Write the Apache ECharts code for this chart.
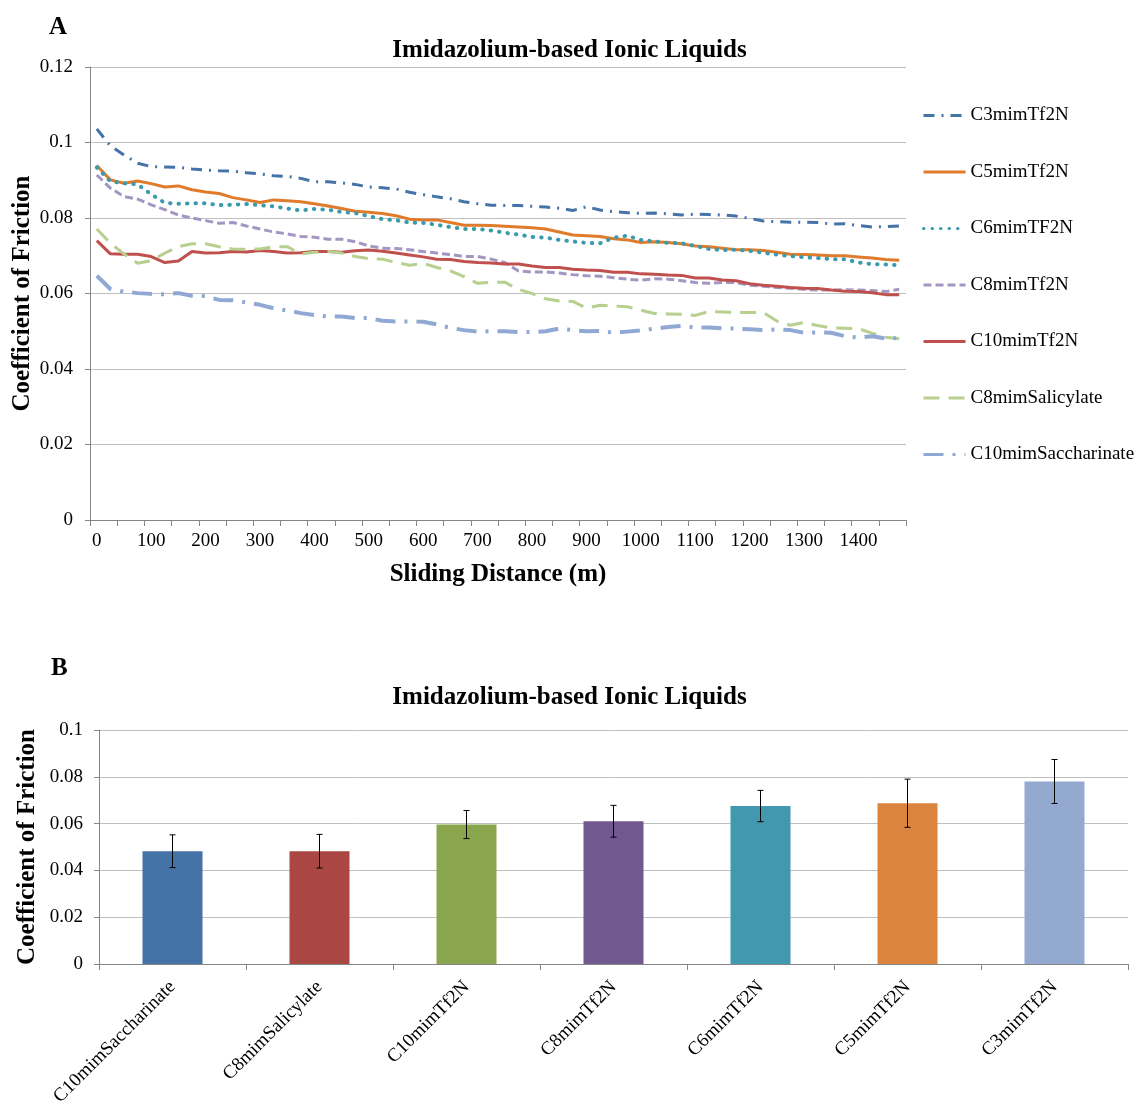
<!DOCTYPE html>
<html><head><meta charset="utf-8">
<script src="https://cdn.jsdelivr.net/npm/echarts@6/dist/echarts.min.js"></script>
<style>html,body{margin:0;padding:0;background:#fff}#c{width:1139px;height:1103px}</style>
</head><body><div id="c"></div>
<script>
const distance = [0,25,50,75,100,125,150,175,200,225,250,275,300,325,350,375,400,425,450,475,500,525,550,575,600,625,650,675,700,725,750,775,800,825,850,875,900,925,950,975,1000,1025,1050,1075,1100,1125,1150,1175,1200,1225,1250,1275,1300,1325,1350,1375,1400,1425,1450,1475];
const c3 = [0.1036,0.0991,0.0967,0.0945,0.0936,0.0935,0.0934,0.0930,0.0927,0.0925,0.0924,0.0920,0.0917,0.0912,0.0910,0.0905,0.0896,0.0896,0.0893,0.0889,0.0882,0.0880,0.0877,0.0868,0.0862,0.0856,0.0851,0.0843,0.0838,0.0834,0.0833,0.0833,0.0831,0.0829,0.0826,0.0820,0.0830,0.0821,0.0817,0.0814,0.0812,0.0813,0.0811,0.0808,0.0810,0.0809,0.0808,0.0805,0.0799,0.0792,0.0790,0.0789,0.0789,0.0788,0.0784,0.0785,0.0780,0.0776,0.0777,0.0779];
const c5 = [0.0939,0.0901,0.0892,0.0898,0.0891,0.0882,0.0885,0.0875,0.0869,0.0865,0.0854,0.0848,0.0841,0.0848,0.0846,0.0843,0.0838,0.0832,0.0825,0.0818,0.0815,0.0812,0.0806,0.0797,0.0795,0.0795,0.0788,0.0781,0.0781,0.0780,0.0778,0.0776,0.0774,0.0771,0.0763,0.0755,0.0753,0.0751,0.0745,0.0742,0.0735,0.0737,0.0735,0.0732,0.0726,0.0724,0.0720,0.0716,0.0716,0.0714,0.0709,0.0704,0.0703,0.0702,0.0700,0.0700,0.0697,0.0694,0.0690,0.0688];
const c6 = [0.0934,0.0897,0.0892,0.0889,0.0863,0.0840,0.0838,0.0839,0.0839,0.0834,0.0835,0.0837,0.0834,0.0831,0.0825,0.0820,0.0824,0.0822,0.0816,0.0813,0.0805,0.0797,0.0794,0.0788,0.0787,0.0782,0.0776,0.0771,0.0771,0.0767,0.0761,0.0756,0.0750,0.0748,0.0742,0.0738,0.0734,0.0733,0.0748,0.0753,0.0742,0.0738,0.0734,0.0733,0.0726,0.0718,0.0715,0.0716,0.0713,0.0708,0.0703,0.0699,0.0696,0.0694,0.0691,0.0691,0.0682,0.0678,0.0677,0.0675];
const c8 = [0.0914,0.0879,0.0857,0.0850,0.0835,0.0822,0.0808,0.0800,0.0793,0.0786,0.0788,0.0779,0.0771,0.0763,0.0758,0.0751,0.0749,0.0744,0.0744,0.0737,0.0726,0.0720,0.0719,0.0716,0.0711,0.0707,0.0703,0.0698,0.0698,0.0691,0.0682,0.0660,0.0657,0.0657,0.0654,0.0650,0.0647,0.0646,0.0642,0.0638,0.0635,0.0639,0.0638,0.0634,0.0629,0.0627,0.0629,0.0629,0.0622,0.0619,0.0616,0.0614,0.0611,0.0609,0.0609,0.0610,0.0609,0.0608,0.0605,0.0611];
const c10 = [0.0740,0.0705,0.0704,0.0704,0.0698,0.0682,0.0686,0.0711,0.0707,0.0708,0.0711,0.0710,0.0714,0.0711,0.0707,0.0708,0.0711,0.0711,0.0709,0.0713,0.0715,0.0712,0.0707,0.0702,0.0697,0.0691,0.0690,0.0685,0.0682,0.0681,0.0678,0.0678,0.0673,0.0669,0.0669,0.0664,0.0662,0.0661,0.0656,0.0656,0.0652,0.0651,0.0649,0.0648,0.0641,0.0641,0.0636,0.0634,0.0626,0.0622,0.0619,0.0616,0.0614,0.0613,0.0609,0.0606,0.0605,0.0602,0.0597,0.0597];
const c8sal = [0.0771,0.0733,0.0705,0.0680,0.0687,0.0707,0.0724,0.0732,0.0732,0.0724,0.0718,0.0717,0.0718,0.0724,0.0724,0.0705,0.0709,0.0711,0.0707,0.0698,0.0692,0.0691,0.0682,0.0675,0.0680,0.0669,0.0660,0.0645,0.0627,0.0630,0.0630,0.0611,0.0600,0.0586,0.0580,0.0579,0.0561,0.0569,0.0567,0.0565,0.0556,0.0547,0.0546,0.0545,0.0542,0.0552,0.0551,0.0550,0.0550,0.0550,0.0527,0.0516,0.0523,0.0515,0.0509,0.0508,0.0507,0.0495,0.0484,0.0480];
const c10sac = [0.0647,0.0612,0.0605,0.0601,0.0599,0.0598,0.0601,0.0594,0.0593,0.0583,0.0582,0.0576,0.0570,0.0561,0.0555,0.0548,0.0543,0.0539,0.0539,0.0535,0.0535,0.0528,0.0526,0.0526,0.0525,0.0518,0.0509,0.0503,0.0499,0.0500,0.0500,0.0498,0.0498,0.0500,0.0507,0.0503,0.0500,0.0501,0.0496,0.0499,0.0502,0.0507,0.0511,0.0514,0.0510,0.0510,0.0508,0.0507,0.0505,0.0503,0.0505,0.0503,0.0496,0.0497,0.0496,0.0487,0.0483,0.0487,0.0481,0.0482];

const barNames = ['C10mimSaccharinate','C8mimSalicylate','C10mimTf2N','C8mimTf2N','C6mimTf2N','C5mimTf2N','C3mimTf2N'];
const barValues = [0.0482,0.0482,0.0596,0.0610,0.0675,0.0687,0.0780];
const barErrors = [0.0070,0.0072,0.0060,0.0068,0.0067,0.0103,0.0094];

const FONT = "'Liberation Serif','Times New Roman',serif";
const barColors = ['#4572A7','#AA4643','#89A54E','#71588F','#4198AF','#DB843D','#93A9CF'];

const lineDefs = [
  {name:'C3mimTf2N', data:c3, color:'#4572A7', type:[11,7,2,7], width:3, cap:'butt'},
  {name:'C5mimTf2N', data:c5, color:'#E07B2C', type:'solid', width:3, cap:'butt'},
  {name:'C6mimTF2N', data:c6, color:'#3A9AAE', type:[0.5,8], width:4, cap:'round'},
  {name:'C8mimTf2N', data:c8, color:'#A396C2', type:[8,4], width:3, cap:'butt'},
  {name:'C10mimTf2N', data:c10, color:'#C0504D', type:'solid', width:3, cap:'butt'},
  {name:'C8mimSalicylate', data:c8sal, color:'#B7CF8F', type:[16,9], width:3, cap:'butt'},
  {name:'C10mimSaccharinate', data:c10sac, color:'#8FA8D4', type:[20,9,3,9], width:4, cap:'butt'}
];

const chart = echarts.init(document.getElementById('c'), null, {renderer:'canvas'});
const axisGray = '#868686';
const gridGray = '#C0C0C0';

const series = lineDefs.map(d => ({
  name: d.name, type:'line', xAxisIndex:0, yAxisIndex:0, data:d.data,
  symbol:'none', showSymbol:false, animation:false, smooth:false,
  lineStyle:{color:d.color, width:d.width, type:d.type, cap:d.cap},
  itemStyle:{color:d.color}
}));

series.push({
  name:'COF', type:'bar', xAxisIndex:1, yAxisIndex:1, barWidth:60, animation:false,
  data: barValues.map((v,i)=>({value:v, itemStyle:{color:barColors[i]}}))
});
series.push({
  name:'err', type:'custom', xAxisIndex:1, yAxisIndex:1, animation:false, z:10,
  data: barValues.map((v,i)=>[i, v-barErrors[i], v+barErrors[i]]),
  renderItem: function(params, api){
    const lo = api.coord([api.value(0), api.value(1)]);
    const hi = api.coord([api.value(0), api.value(2)]);
    const w = 3;
    const st = {stroke:'#000', lineWidth:1};
    return {type:'group', children:[
      {type:'line', shape:{x1:lo[0],y1:lo[1],x2:hi[0],y2:hi[1]}, style:st},
      {type:'line', shape:{x1:lo[0]-w,y1:lo[1],x2:lo[0]+w,y2:lo[1]}, style:st},
      {type:'line', shape:{x1:hi[0]-w,y1:hi[1],x2:hi[0]+w,y2:hi[1]}, style:st}
    ]};
  }
});

const option = {
  backgroundColor:'#fff',
  animation:false,
  textStyle:{fontFamily:FONT},
  title:[
    {text:'A', left:44, top:10, textStyle:{fontFamily:FONT, fontSize:25, fontWeight:'bold', color:'#000'}},
    {text:'Imidazolium-based Ionic Liquids', left:'center', top:33, textStyle:{fontFamily:FONT, fontSize:25, fontWeight:'bold', color:'#000'}},
    {text:'B', left:46, top:651, textStyle:{fontFamily:FONT, fontSize:25, fontWeight:'bold', color:'#000'}},
    {text:'Imidazolium-based Ionic Liquids', left:'center', top:680, textStyle:{fontFamily:FONT, fontSize:25, fontWeight:'bold', color:'#000'}}
  ],
  legend:{
    data: lineDefs.map(d=>d.name), orient:'vertical', left:917, top:101,
    itemWidth:42, itemHeight:18, itemGap:37.5,
    itemStyle:{opacity:0},
    lineStyle:{width:3},
    textStyle:{fontFamily:FONT, fontSize:19, color:'#000'}
  },
  grid:[
    {left:90, top:67, width:816, height:453, outerBoundsMode:'none', containLabel:false},
    {left:99, top:730, width:1029, height:234, outerBoundsMode:'none', containLabel:false}
  ],
  xAxis:[
    {type:'category', gridIndex:0, data:distance, boundaryGap:true,
     axisLine:{lineStyle:{color:axisGray}},
     axisTick:{show:true, interval:1, length:6, lineStyle:{color:axisGray}},
     axisLabel:{interval:3, fontFamily:FONT, fontSize:19, color:'#000', margin:12},
     splitLine:{show:false},
     name:'Sliding Distance (m)', nameLocation:'middle', nameGap:42,
     nameTextStyle:{fontFamily:FONT, fontSize:25, fontWeight:'bold', color:'#000'}},
    {type:'category', gridIndex:1, data:barNames, boundaryGap:true,
     axisLine:{lineStyle:{color:axisGray}},
     axisTick:{show:true, length:6, lineStyle:{color:axisGray}},
     axisLabel:{interval:0, rotate:45, fontFamily:FONT, fontSize:19, color:'#000', margin:20}}
  ],
  yAxis:[
    {type:'value', gridIndex:0, min:0, max:0.12, interval:0.02,
     axisLine:{show:true, lineStyle:{color:axisGray}},
     axisTick:{show:true, length:5, lineStyle:{color:axisGray}},
     axisLabel:{fontFamily:FONT, fontSize:19, color:'#000', margin:17},
     splitLine:{lineStyle:{color:gridGray, width:1}},
     name:'Coefficient of Friction', nameLocation:'middle', nameGap:55, nameMoveOverlap:false,
     nameTextStyle:{fontFamily:FONT, fontSize:25, fontWeight:'bold', color:'#000'}},
    {type:'value', gridIndex:1, min:0, max:0.1, interval:0.02,
     axisLine:{show:true, lineStyle:{color:axisGray}},
     axisTick:{show:true, length:5, lineStyle:{color:axisGray}},
     axisLabel:{fontFamily:FONT, fontSize:19, color:'#000', margin:16},
     splitLine:{lineStyle:{color:gridGray, width:1}},
     name:'Coefficient of Friction', nameLocation:'middle', nameGap:59, nameMoveOverlap:false,
     nameTextStyle:{fontFamily:FONT, fontSize:25, fontWeight:'bold', color:'#000'}}
  ],
  series: series
};
chart.setOption(option);
</script>
</body></html>
